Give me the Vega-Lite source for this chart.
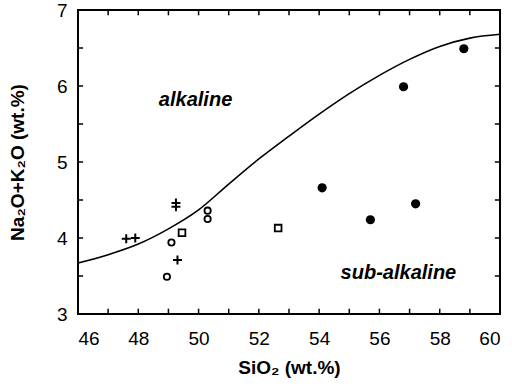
{
  "$schema": "https://vega.github.io/schema/vega-lite/v6.json",
  "width": 422,
  "height": 304,
  "autosize": {"type": "none"},
  "padding": {"left": 78, "top": 10, "right": 12, "bottom": 72},
  "background": "white",
  "config": {
    "view": {"stroke": "black", "strokeWidth": 2},
    "font": "Liberation Sans"
  },
  "datasets": {
    "curve": [
      {"si": 46, "alk": 3.67}, {"si": 47, "alk": 3.78}, {"si": 48, "alk": 3.92},
      {"si": 49, "alk": 4.12}, {"si": 50, "alk": 4.37}, {"si": 51, "alk": 4.71},
      {"si": 52, "alk": 5.04}, {"si": 53, "alk": 5.34}, {"si": 54, "alk": 5.63},
      {"si": 55, "alk": 5.9}, {"si": 56, "alk": 6.14}, {"si": 57, "alk": 6.35},
      {"si": 58, "alk": 6.52}, {"si": 59, "alk": 6.63}, {"si": 60, "alk": 6.68}
    ],
    "filled": [
      {"si": 58.8, "alk": 6.49}, {"si": 56.8, "alk": 5.99}, {"si": 54.1, "alk": 4.66},
      {"si": 55.7, "alk": 4.24}, {"si": 57.2, "alk": 4.45}
    ],
    "open": [
      {"si": 48.95, "alk": 3.49}, {"si": 49.1, "alk": 3.94}, {"si": 50.3, "alk": 4.36}, {"si": 50.3, "alk": 4.25}
    ],
    "square": [
      {"si": 52.64, "alk": 4.13}, {"si": 49.45, "alk": 4.07}
    ],
    "plus": [
      {"si": 47.6, "alk": 3.99}, {"si": 47.9, "alk": 4.0}, {"si": 49.25, "alk": 4.46},
      {"si": 49.25, "alk": 4.41}, {"si": 49.3, "alk": 3.71}
    ],
    "labels": [
      {"si": 49.9, "alk": 5.82, "name": "alkaline"},
      {"si": 56.63, "alk": 3.54, "name": "sub-alkaline"}
    ],
    "xticks": [
      {"si": 47}, {"si": 48}, {"si": 49}, {"si": 50}, {"si": 51}, {"si": 52}, {"si": 53},
      {"si": 54}, {"si": 55}, {"si": 56}, {"si": 57}, {"si": 58}, {"si": 59}
    ],
    "yticks": [
      {"alk": 3.5}, {"alk": 4}, {"alk": 4.5}, {"alk": 5}, {"alk": 5.5}, {"alk": 6}, {"alk": 6.5}
    ]
  },
  "resolve": {"axis": {"x": "independent", "y": "independent"}},
  "layer": [
    {
      "data": {"name": "curve"},
      "mark": {"type": "line", "color": "black", "strokeWidth": 1.6, "interpolate": "monotone"},
      "encoding": {
        "x": {"field": "si", "type": "quantitative", "scale": {"domain": [46, 60], "nice": false, "zero": false},
          "axis": {"orient": "bottom", "title": "SiO₂ (wt.%)", "values": [46,48,50,52,54,56,58,60], "format": "d",
            "domain": false, "ticks": false, "tickSize": 0, "grid": false, "labelPadding": 15, "titlePadding": 10,
            "labelFont": "Liberation Sans", "labelFontSize": 19, "labelColor": "black",
            "titleFont": "Liberation Sans", "titleFontSize": 19, "titleFontWeight": "bold", "titleColor": "black"}},
        "y": {"field": "alk", "type": "quantitative", "scale": {"domain": [3, 7], "nice": false, "zero": false},
          "axis": {"orient": "left", "title": "Na₂O+K₂O (wt.%)", "values": [3,4,5,6,7], "format": "d",
            "domain": false, "ticks": false, "tickSize": 0, "grid": false, "labelPadding": 11, "titlePadding": 29,
            "labelFont": "Liberation Sans", "labelFontSize": 19, "labelColor": "black",
            "titleFont": "Liberation Sans", "titleFontSize": 19, "titleFontWeight": "bold", "titleColor": "black"}}
      }
    },
    {
      "data": {"name": "xticks"},
      "mark": {"type": "rule", "color": "black", "strokeWidth": 1.5},
      "encoding": {
        "x": {"field": "si", "type": "quantitative", "axis": null},
        "y": {"datum": 3, "type": "quantitative", "axis": null},
        "y2": {"datum": 3.07}
      }
    },
    {
      "data": {"name": "xticks"},
      "mark": {"type": "rule", "color": "black", "strokeWidth": 1.5},
      "encoding": {
        "x": {"field": "si", "type": "quantitative", "axis": null},
        "y": {"datum": 7, "type": "quantitative", "axis": null},
        "y2": {"datum": 6.93}
      }
    },
    {
      "data": {"name": "yticks"},
      "mark": {"type": "rule", "color": "black", "strokeWidth": 1.5},
      "encoding": {
        "y": {"field": "alk", "type": "quantitative", "axis": null},
        "x": {"datum": 46, "type": "quantitative", "axis": null},
        "x2": {"datum": 46.17}
      }
    },
    {
      "data": {"name": "yticks"},
      "mark": {"type": "rule", "color": "black", "strokeWidth": 1.5},
      "encoding": {
        "y": {"field": "alk", "type": "quantitative", "axis": null},
        "x": {"datum": 60, "type": "quantitative", "axis": null},
        "x2": {"datum": 59.83}
      }
    },
    {
      "data": {"name": "filled"},
      "mark": {"type": "point", "filled": true, "color": "black", "size": 85, "opacity": 1},
      "encoding": {
        "x": {"field": "si", "type": "quantitative", "axis": null},
        "y": {"field": "alk", "type": "quantitative", "axis": null}
      }
    },
    {
      "data": {"name": "open"},
      "mark": {"type": "point", "filled": false, "color": "black", "size": 40, "strokeWidth": 1.8, "opacity": 1},
      "encoding": {
        "x": {"field": "si", "type": "quantitative", "axis": null},
        "y": {"field": "alk", "type": "quantitative", "axis": null}
      }
    },
    {
      "data": {"name": "square"},
      "mark": {"type": "point", "shape": "square", "filled": false, "color": "black", "size": 45, "strokeWidth": 1.8, "opacity": 1},
      "encoding": {
        "x": {"field": "si", "type": "quantitative", "axis": null},
        "y": {"field": "alk", "type": "quantitative", "axis": null}
      }
    },
    {
      "data": {"name": "plus"},
      "mark": {"type": "point", "shape": "M-1,0L1,0M0,-1L0,1", "filled": false, "color": "black", "size": 80, "strokeWidth": 2, "opacity": 1},
      "encoding": {
        "x": {"field": "si", "type": "quantitative", "axis": null},
        "y": {"field": "alk", "type": "quantitative", "axis": null}
      }
    },
    {
      "data": {"name": "labels"},
      "mark": {"type": "text", "font": "Liberation Sans", "fontSize": 20, "fontWeight": "bold", "fontStyle": "italic", "color": "black", "align": "center", "baseline": "middle"},
      "encoding": {
        "x": {"field": "si", "type": "quantitative", "axis": null},
        "y": {"field": "alk", "type": "quantitative", "axis": null},
        "text": {"field": "name"}
      }
    }
  ]
}
